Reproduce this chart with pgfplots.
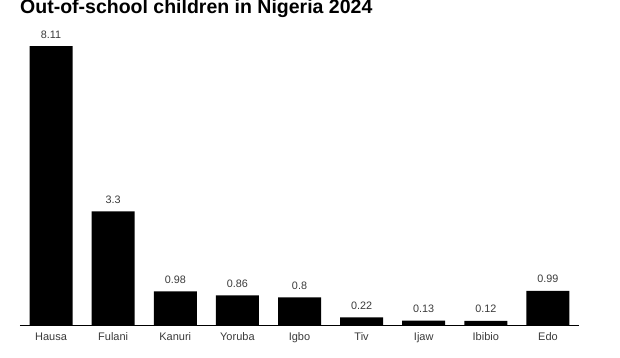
\documentclass[border=0pt]{standalone}
\usepackage{fontspec}
\setmainfont{Liberation Sans}
\usepackage{pgfplots}
\pgfplotsset{compat=1.18}
\definecolor{txt}{HTML}{3A3A3A}
\begin{document}
\begin{tikzpicture}
\useasboundingbox (0,0) rectangle (620pt,357pt);
\node[anchor=base west, inner sep=0pt, text={black}, font=\bfseries\fontsize{19.5}{22}\selectfont] at (20pt,343pt) {Out-of-school children in Nigeria 2024};
\begin{axis}[
  at={(20pt,32pt)}, anchor=south west,
  scale only axis, width=559pt, height=309.6pt,
  xmin=-0.5, xmax=8.5, ymin=0, ymax=9,
  axis x line*=bottom, axis y line=none,
  x axis line style={-, line width=0.8pt, color=black},
  xtick={0,...,8},
  xticklabels={Hausa,Fulani,Kanuri,Yoruba,Igbo,Tiv,Ijaw,Ibibio,Edo},
  major tick length=0pt,
  xticklabel style={font=\fontsize{11}{13}\selectfont, text=txt, anchor=base, yshift=-15.3pt},
  ybar, bar width=43pt,
  nodes near coords,
  point meta=explicit symbolic,
  nodes near coords style={font=\fontsize{10.8}{13}\selectfont, text=txt, anchor=base, yshift=8pt},
  clip=false,
]
\addplot[fill=black, draw=none] table[meta=lab] {
x y lab
0 8.11 8.11
1 3.3 3.3
2 0.98 0.98
3 0.86 0.86
4 0.8 0.8
5 0.22 0.22
6 0.13 0.13
7 0.12 0.12
8 0.99 0.99
};
\end{axis}
\end{tikzpicture}
\end{document}
